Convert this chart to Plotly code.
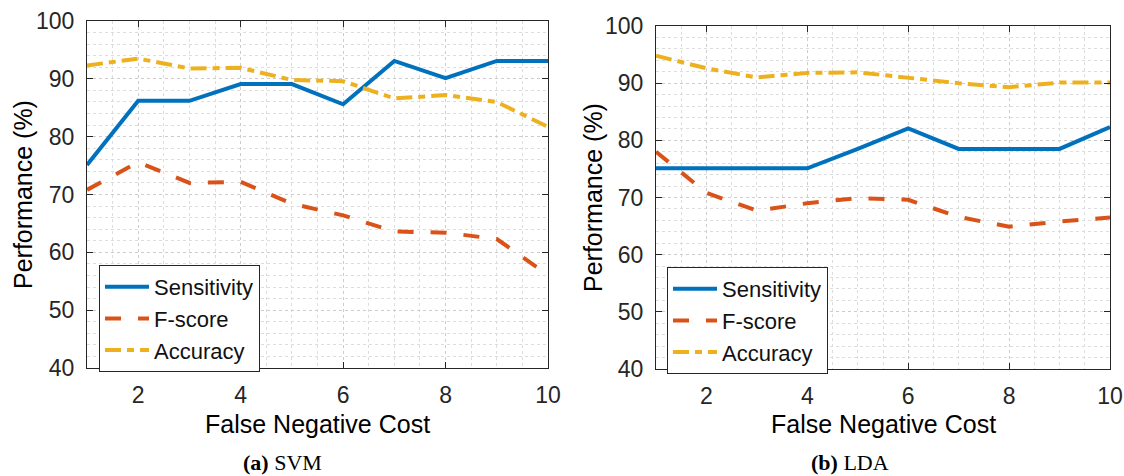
import plotly.graph_objects as go

cost = [1, 2, 3, 4, 5, 6, 7, 8, 9, 10]

svm_sensitivity = [75.1, 86.2, 86.2, 89.1, 89.1, 85.6, 93.1, 90.1, 93.1, 93.1]
svm_fscore = [70.8, 75.6, 72.0, 72.2, 68.4, 66.4, 63.6, 63.4, 62.3, 56.1]
svm_accuracy = [92.3, 93.5, 91.8, 91.9, 89.8, 89.6, 86.6, 87.2, 86.0, 81.7]

lda_sensitivity = [75.1, 75.1, 75.1, 75.1, 78.5, 82.1, 78.5, 78.5, 78.5, 82.3]
lda_fscore = [78.0, 70.8, 67.7, 69.0, 69.9, 69.6, 66.6, 64.9, 65.8, 66.5]
lda_accuracy = [94.8, 92.6, 91.0, 91.8, 91.9, 90.9, 90.0, 89.3, 90.1, 90.1]

series_names = ["Sensitivity", "F-score", "Accuracy"]
colors = ["#0072BD", "#D95319", "#EDB120"]
dashes = ["solid", "16px,17px", "16px,6px,7px,6px"]

x_ticks = [2, 4, 6, 8, 10]
y_ticks = [40, 50, 60, 70, 80, 90, 100]

W, H = 1124, 476
FONT = "Liberation Sans, Arial, sans-serif"
TXT = "#262626"

fig = go.Figure()

panels = [
    ("x", "y", "legend", [svm_sensitivity, svm_fscore, svm_accuracy]),
    ("x2", "y2", "legend2", [lda_sensitivity, lda_fscore, lda_accuracy]),
]
for xa, ya, lg, data in panels:
    for name, vals, c, d in zip(series_names, data, colors, dashes):
        fig.add_trace(go.Scatter(
            x=cost, y=vals, mode="lines", name=name,
            line=dict(color=c, width=4, dash=d),
            xaxis=xa, yaxis=ya, legend=lg,
        ))

def px_x(p):
    return p / W

def px_y(p):
    return (H - p) / H

axis_common = dict(
    showline=True, linecolor=TXT, linewidth=1, mirror="ticks",
    ticks="inside", ticklen=6, tickcolor=TXT, tickwidth=1,
    tickfont=dict(family=FONT, size=23, color=TXT),
    showgrid=True, gridcolor="#cccccc", griddash="dot", gridwidth=1,
    zeroline=False, fixedrange=True, automargin=False,
)

xcommon = dict(axis_common, range=[1, 10], tickvals=x_ticks,
               minor=dict(dtick=0.5, tick0=0, showgrid=True, gridcolor="#dddddd", griddash="dot", ticks=""),
               ticklabelstandoff=6)
ycommon = dict(axis_common, range=[40, 100], tickvals=y_ticks,
               minor=dict(dtick=2, tick0=0, showgrid=True, gridcolor="#dddddd", griddash="dot", ticks=""),
               ticklabelstandoff=7)

legend_common = dict(xanchor="left", yanchor="top",
                     bgcolor="white", bordercolor=TXT, borderwidth=1,
                     font=dict(family=FONT, size=22, color="#111111"),
                     itemwidth=44, tracegroupgap=0)

fig.update_layout(
    width=W, height=H,
    margin=dict(l=0, r=0, t=0, b=0, autoexpand=False),
    paper_bgcolor="white", plot_bgcolor="white",
    xaxis=dict(xcommon, domain=[px_x(87), px_x(548)], anchor="y"),
    yaxis=dict(ycommon, domain=[px_y(368), px_y(21)], anchor="x"),
    xaxis2=dict(xcommon, domain=[px_x(656), px_x(1110)], anchor="y2"),
    yaxis2=dict(ycommon, domain=[px_y(369), px_y(26)], anchor="x2"),
    legend=dict(legend_common, x=px_x(99), y=px_y(265)),
    legend2=dict(legend_common, x=px_x(667), y=px_y(267)),
    showlegend=True,
)

annots = [
    dict(text="False Negative Cost", x=px_x(317.5), y=px_y(424), size=25, angle=0, fam=FONT),
    dict(text="False Negative Cost", x=px_x(883), y=px_y(424), size=25, angle=0, fam=FONT),
    dict(text="Performance (%)", x=px_x(23), y=px_y(195), size=25, angle=-90, fam=FONT),
    dict(text="Performance (%)", x=px_x(593), y=px_y(198), size=25, angle=-90, fam=FONT),
    dict(text="<b>(a)</b> SVM", x=px_x(282), y=px_y(462), size=22, angle=0, fam="Liberation Serif, serif"),
    dict(text="<b>(b)</b> LDA", x=px_x(850), y=px_y(462), size=22, angle=0, fam="Liberation Serif, serif"),
]
for a in annots:
    fig.add_annotation(
        text=a["text"], x=a["x"], y=a["y"], xref="paper", yref="paper",
        xanchor="center", yanchor="middle", showarrow=False, textangle=a["angle"],
        font=dict(family=a["fam"], size=a["size"], color=TXT if "serif" not in a["fam"] else "#000000"),
    )

fig.write_html(
    "out.html",
    config={"displayModeBar": False},
    post_script="document.body.style.margin='0px';document.body.style.overflow='hidden';",
)
